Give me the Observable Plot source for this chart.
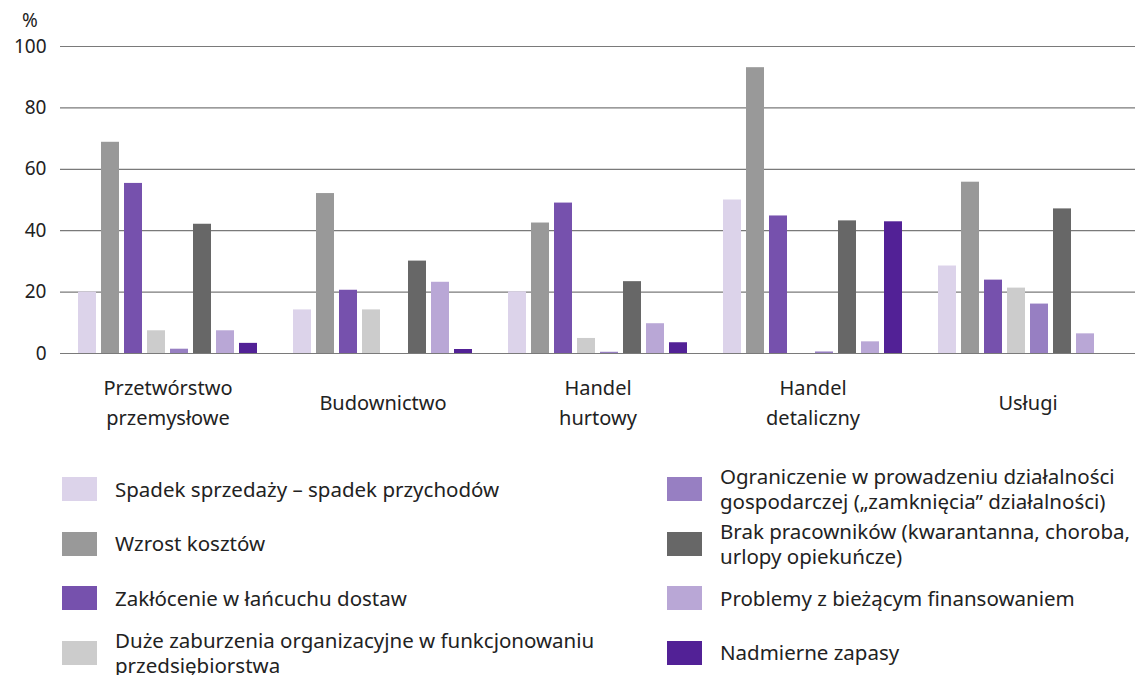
<!DOCTYPE html>
<html><head><meta charset="utf-8">
<script src="https://cdn.jsdelivr.net/npm/d3@7"></script>
<script src="https://cdn.jsdelivr.net/npm/@observablehq/plot@0.6"></script>
<style>
body{margin:0;background:#fff;font-family:"Noto Sans",sans-serif;color:#222}
#wrap{position:relative;width:1141px;height:675px;overflow:hidden}
#pct{position:absolute;left:22px;top:7px;font-size:19px;color:#222}
#legend{position:absolute;left:0;top:462px;width:1141px}
.item{position:absolute;display:flex;align-items:center;height:54px;font-size:20.5px;line-height:25px;color:#222}
.sw{width:35px;height:24px;flex:none;margin-right:18px}
</style></head>
<body><div id="wrap"><div id="chart"></div><div id="pct">%</div><div id="legend"></div></div>
<script>
const categories = ["Przetwórstwo\nprzemysłowe","Budownictwo","Handel\nhurtowy","Handel\ndetaliczny","Usługi"];
const seriesNames = [
  "Spadek sprzedaży – spadek przychodów",
  "Wzrost kosztów",
  "Zakłócenie w łańcuchu dostaw",
  "Duże zaburzenia organizacyjne w funkcjonowaniu\nprzedsiębiorstwa",
  "Ograniczenie w prowadzeniu działalności\ngospodarczej („zamknięcia” działalności)",
  "Brak pracowników (kwarantanna, choroba,\nurlopy opiekuńcze)",
  "Problemy z bieżącym finansowaniem",
  "Nadmierne zapasy"
];
const colors = ["#dcd3ea","#999999","#7651ad","#cccccc","#977fc2","#676767","#b9a7d6","#522196"];
const spadekSprzedazy = [20.0, 14.2, 20.1, 50.0, 28.5];
const wzrostKosztow   = [68.8, 52.1, 42.5, 93.1, 55.8];
const zaklocenie      = [55.4, 20.6, 49.0, 44.8, 23.9];
const zaburzenia      = [7.4, 14.2, 4.9, 0, 21.3];
const ograniczenie    = [1.4, 0, 0.4, 0.5, 16.1];
const brakPracownikow = [42.1, 30.1, 23.4, 43.2, 47.1];
const finansowanie    = [7.4, 23.2, 9.7, 3.8, 6.4];
const zapasy          = [3.3, 1.3, 3.5, 42.9, 0];
const yTicks = [0, 20, 40, 60, 80, 100];

const seriesValues = [spadekSprzedazy, wzrostKosztow, zaklocenie, zaburzenia, ograniczenie, brakPracownikow, finansowanie, zapasy];
const data = [];
categories.forEach((c, ci) => seriesNames.forEach((s, si) => data.push({cat: c, series: s, value: seriesValues[si][ci]})));

const chart = Plot.plot({
  width: 1141, height: 440,
  marginLeft: 58, marginRight: 4, marginTop: 46, marginBottom: 87,
  style: {fontFamily: "Noto Sans", fontSize: "19px", color: "#222"},
  fx: {domain: categories, padding: 0, label: null},
  x: {domain: seriesNames, paddingInner: 0.21, paddingOuter: 0.72, axis: null},
  y: {domain: [0, 100], label: null},
  color: {domain: seriesNames, range: colors},
  marks: [
    Plot.ruleY(yTicks, {stroke: "#7a7a7a", strokeWidth: 1.2}),
    Plot.barY(data.filter(d => d.value > 0), {fx: "cat", x: "series", y: "value", fill: "series"}),
    Plot.axisY(yTicks, {tickSize: 0, tickPadding: 14, label: null, fill: "#222"}),
    Plot.axisFx({anchor: "bottom", tickSize: 0, tickPadding: 47, lineAnchor: "middle", lineHeight: 1.5, label: null, fill: "#222", fontSize: 20})
  ]
});
document.getElementById("chart").appendChild(chart);

const legend = document.getElementById("legend");
seriesNames.forEach((s, i) => {
  const col = Math.floor(i / 4), row = i % 4;
  const it = document.createElement("div");
  it.className = "item";
  it.style.left = (col ? 667 : 62) + "px";
  it.style.top = (row * 54.5) + "px";
  const sw = document.createElement("div");
  sw.className = "sw"; sw.style.background = colors[i];
  const tx = document.createElement("div");
  tx.style.whiteSpace = "pre";
  tx.textContent = s;
  it.appendChild(sw); it.appendChild(tx);
  legend.appendChild(it);
});
</script></body></html>
